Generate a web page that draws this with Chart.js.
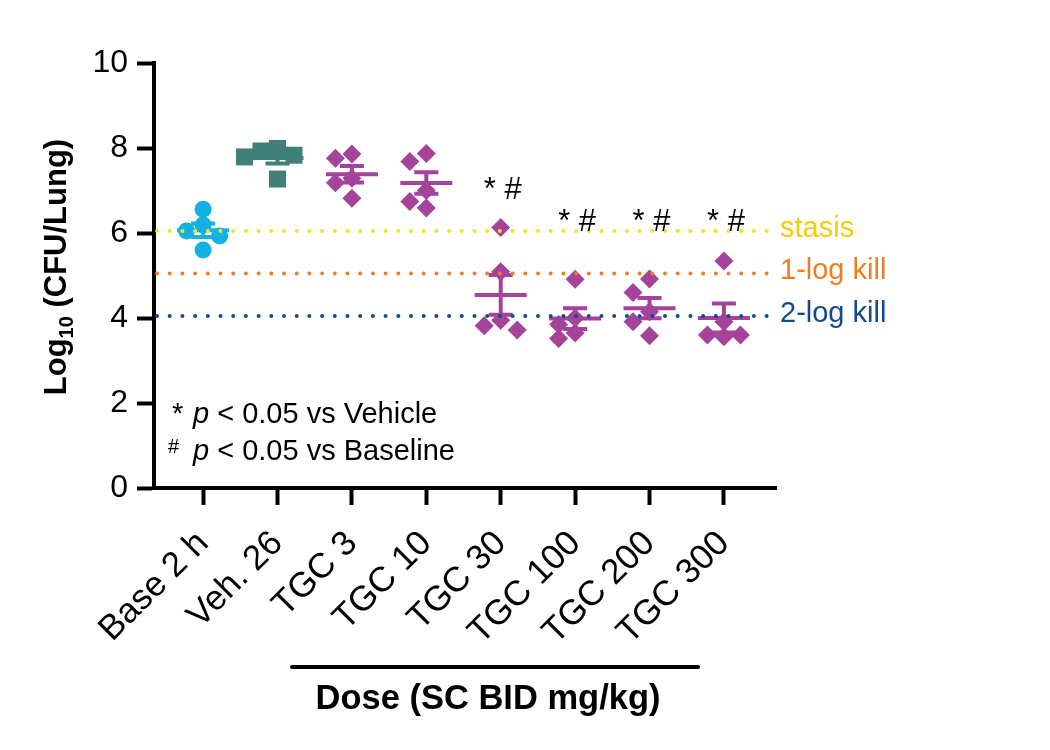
<!DOCTYPE html>
<html>
<head>
<meta charset="utf-8">
<title>Log10 CFU per lung by dose</title>
<script src="https://cdn.jsdelivr.net/npm/chart.js@4.4.0/dist/chart.umd.min.js"></script>
<style>
  html, body { margin: 0; padding: 0; background: #fff; }
  #wrap { width: 1050px; height: 750px; }
</style>
</head>
<body>
<div id="wrap"><canvas id="cfu-chart" width="1050" height="750"></canvas></div>
<script>
// groups along the x axis
const groupLabels = ['Base 2 h', 'Veh. 26', 'TGC 3', 'TGC 10', 'TGC 30', 'TGC 100', 'TGC 200', 'TGC 300'];

// log10 CFU per lung, one value per animal
const baseline = [6.56, 6.19, 6.05, 5.93, 5.60];
const vehicle = [7.99, 7.93, 7.83, 7.79, 7.27];
const tgc3 = [7.86, 7.76, 7.29, 7.18, 6.82];
const tgc10 = [7.87, 7.68, 7.00, 6.74, 6.59];
const tgc30 = [6.13, 5.09, 3.95, 3.82, 3.72];
const tgc100 = [4.91, 4.00, 3.85, 3.65, 3.52];
const tgc200 = [4.92, 4.60, 4.15, 3.91, 3.58];
const tgc300 = [5.34, 3.91, 3.60, 3.60, 3.56];
const groupValues = [baseline, vehicle, tgc3, tgc10, tgc30, tgc100, tgc200, tgc300];

const yTicks = [0, 2, 4, 6, 8, 10];

// reference levels
const refLabels = ['stasis', '1-log kill', '2-log kill'];
const refValues = [6.05, 5.05, 4.05];

// significance marks and the height they sit at
const sigLabels = ['', '', '', '', '* #', '* #', '* #', '* #'];
const sigHeights = [null, null, null, null, 7.0, 6.24, 6.24, 6.24];

const groupColors = ['#13b1e4', '#40807a', '#a5439b', '#a5439b', '#a5439b', '#a5439b', '#a5439b', '#a5439b'];
const groupShapes = ['circle', 'rect', 'rectRot', 'rectRot', 'rectRot', 'rectRot', 'rectRot', 'rectRot'];
const groupRadius = [8.5, 12, 9.5, 9.5, 9.5, 9.5, 9.5, 9.5];
const refLineColors = ['#f1e31c', '#ee7d23', '#134a8b'];
const refTextColors = ['#f3cd0c', '#ee7d23', '#134a8b'];

const FONT = '"Liberation Sans", Arial, sans-serif';
const PX_X = 74.4, PX_Y = 42.5; // pixels per unit, used only to spread points
const SPREAD = 16.5, MIN_GAP = 14;

// simple beeswarm so points with close values sit side by side
function spreadGroup(values, index) {
  const placed = [];
  return values.map(v => {
    let off = 0;
    for (const k of [0, -1, 1, -0.5, 0.5, -1.5, 1.5, -2, 2]) {
      const dx = k * SPREAD;
      const clash = placed.some(p => Math.hypot(p.dx - dx, (p.v - v) * PX_Y) < MIN_GAP);
      if (!clash) { off = dx; break; }
    }
    placed.push({ v: v, dx: off });
    return { x: index + off / PX_X, y: v };
  });
}

function meanSem(values) {
  const n = values.length;
  const mean = values.reduce((a, b) => a + b, 0) / n;
  const sd = Math.sqrt(values.reduce((a, b) => a + (b - mean) ** 2, 0) / (n - 1));
  return { mean: mean, sem: sd / Math.sqrt(n) };
}

const datasets = groupValues.map((vals, i) => ({
  label: groupLabels[i],
  data: spreadGroup(vals, i),
  pointStyle: groupShapes[i],
  pointRadius: groupRadius[i],
  pointHoverRadius: groupRadius[i],
  backgroundColor: groupColors[i],
  borderWidth: 0,
  showLine: false
}));

// mean and SEM bars over each group
const meanBars = {
  id: 'meanBars',
  afterDatasetsDraw(chart) {
    const ctx = chart.ctx, xs = chart.scales.x, ys = chart.scales.y;
    ctx.save();
    ctx.lineWidth = 4;
    groupValues.forEach((vals, i) => {
      const s = meanSem(vals);
      const cx = xs.getPixelForValue(i);
      const ym = ys.getPixelForValue(s.mean);
      const yt = ys.getPixelForValue(s.mean + s.sem);
      const yb = ys.getPixelForValue(s.mean - s.sem);
      ctx.strokeStyle = groupColors[i];
      ctx.beginPath();
      ctx.moveTo(cx - 26, ym); ctx.lineTo(cx + 26, ym);
      ctx.moveTo(cx, yt); ctx.lineTo(cx, yb);
      ctx.moveTo(cx - 12, yt); ctx.lineTo(cx + 12, yt);
      ctx.moveTo(cx - 12, yb); ctx.lineTo(cx + 12, yb);
      ctx.stroke();
    });
    ctx.restore();
  }
};

// dotted reference lines, labels and all the loose text
const extras = {
  id: 'extras',
  afterDraw(chart) {
    const ctx = chart.ctx, xs = chart.scales.x, ys = chart.scales.y;
    const area = chart.chartArea;
    ctx.save();

    refValues.forEach((v, i) => {
      const y = ys.getPixelForValue(v);
      ctx.strokeStyle = refLineColors[i];
      ctx.lineWidth = 4;
      ctx.lineCap = 'round';
      ctx.setLineDash([0, 12.7]);
      ctx.beginPath();
      ctx.moveTo(area.left + 3, y);
      ctx.lineTo(area.right - 4, y);
      ctx.stroke();
      ctx.setLineDash([]);
      ctx.fillStyle = refTextColors[i];
      ctx.font = '29px ' + FONT;
      ctx.textAlign = 'left';
      ctx.textBaseline = 'middle';
      ctx.fillText(refLabels[i], area.right + 4, y - 2);
    });

    ctx.fillStyle = '#000';
    ctx.font = '31px ' + FONT;
    ctx.textAlign = 'center';
    ctx.textBaseline = 'middle';
    sigLabels.forEach((t, i) => {
      if (!t) return;
      ctx.fillText(t, xs.getPixelForValue(i) + 2, ys.getPixelForValue(sigHeights[i]));
    });

    // footnote
    ctx.textAlign = 'left';
    ctx.textBaseline = 'alphabetic';
    const notes = [['*', ' vs Vehicle', 423, '29px '], ['#', ' vs Baseline', 460, '20px ']];
    notes.forEach(n => {
      ctx.font = n[3] + FONT;
      ctx.fillText(n[0], n[0] === '*' ? 172 : 168, n[0] === '*' ? n[2] : n[2] - 7);
      let x = 193;
      ctx.font = 'italic 29px ' + FONT;
      ctx.fillText('p', x, n[2]);
      x += ctx.measureText('p').width;
      ctx.font = '29px ' + FONT;
      ctx.fillText(' < 0.05' + n[1], x, n[2]);
    });

    // y axis title with subscript
    ctx.translate(0, 267);
    ctx.rotate(-Math.PI / 2);
    const big = 'bold 31px ' + FONT, small = 'bold 20px ' + FONT;
    ctx.font = big;
    const w1 = ctx.measureText('Log').width, w3 = ctx.measureText(' (CFU/Lung)').width;
    ctx.font = small;
    const w2 = ctx.measureText('10').width;
    let tx = -(w1 + w2 + w3) / 2;
    ctx.font = big; ctx.fillText('Log', tx, 66); tx += w1;
    ctx.font = small; ctx.fillText('10', tx, 73); tx += w2;
    ctx.font = big; ctx.fillText(' (CFU/Lung)', tx, 66);
    ctx.setTransform(1, 0, 0, 1, 0, 0);

    // dose bar and x title
    ctx.lineWidth = 4;
    ctx.strokeStyle = '#000';
    ctx.beginPath();
    ctx.moveTo(292, 667);
    ctx.lineTo(698, 667);
    ctx.stroke();
    ctx.font = 'bold 34.5px ' + FONT;
    ctx.textAlign = 'center';
    ctx.textBaseline = 'middle';
    ctx.fillText('Dose (SC BID mg/kg)', 488, 699);

    ctx.restore();
  }
};

const ctx = document.getElementById('cfu-chart').getContext('2d');
window.cfuChart = new Chart(ctx, {
  type: 'scatter',
  data: { datasets: datasets },
  options: {
    responsive: false,
    animation: false,
    devicePixelRatio: 1,
    layout: { padding: { top: 63, right: 274, left: 0, bottom: 0 } },
    plugins: { legend: { display: false }, tooltip: { enabled: false } },
    scales: {
      x: {
        type: 'linear',
        min: -0.66,
        max: 7.7,
        afterBuildTicks: s => { s.ticks = groupLabels.map((_, i) => ({ value: i })); },
        afterFit: s => { s.height = 262; },
        ticks: {
          callback: (v, i) => groupLabels[i],
          autoSkip: false,
          minRotation: 45,
          maxRotation: 45,
          padding: 18,
          color: '#000',
          font: { family: FONT, size: 35 }
        },
        grid: { drawOnChartArea: false, tickLength: 17, tickWidth: 4, color: '#000' },
        border: { display: true, width: 4, color: '#000' }
      },
      y: {
        min: 0,
        max: 10,
        afterBuildTicks: s => { s.ticks = yTicks.map(v => ({ value: v })); },
        afterFit: s => { s.width = 154; },
        ticks: {
          padding: 9,
          color: '#000',
          font: { family: FONT, size: 32 }
        },
        grid: { drawOnChartArea: false, tickLength: 17, tickWidth: 4, color: '#000' },
        border: { display: true, width: 4, color: '#000' }
      }
    }
  },
  plugins: [meanBars, extras]
});
</script>
</body>
</html>
